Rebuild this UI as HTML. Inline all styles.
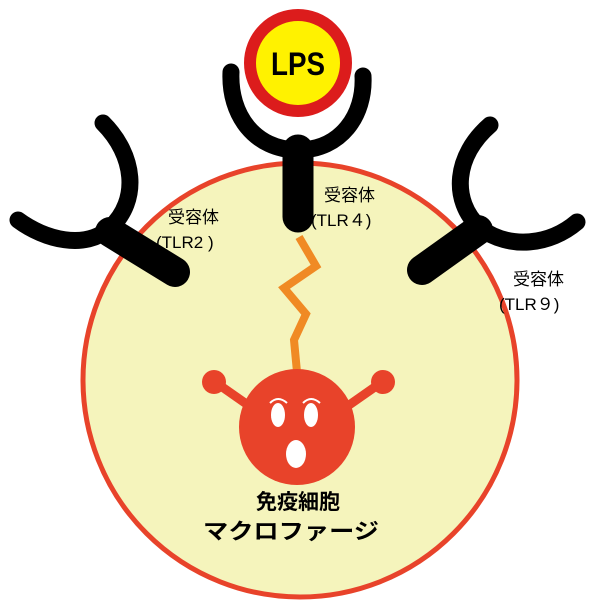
<!DOCTYPE html>
<html><head><meta charset="utf-8"><style>
html,body{margin:0;padding:0;background:#fff;width:600px;height:600px;overflow:hidden}
svg{display:block}
text{font-family:"Liberation Sans","Noto Sans CJK JP",sans-serif}
</style></head><body>
<svg width="600" height="600" viewBox="0 0 600 600">
<circle cx="300" cy="380" r="217" fill="#f5f4bc" stroke="#e8432a" stroke-width="5"/>
<!-- TLR2 -->
<path d="M103,123 C135,155 140,200 110,228 C85,250 45,240 18,220" fill="none" stroke="#000" stroke-width="17" stroke-linecap="round"/>
<line x1="110" y1="232" x2="175" y2="272" stroke="#000" stroke-width="30" stroke-linecap="round"/>
<!-- TLR9 -->
<path d="M490,125 C455,155 450,200 480,228 C510,250 550,245 577,222" fill="none" stroke="#000" stroke-width="17" stroke-linecap="round"/>
<line x1="478" y1="230" x2="422" y2="270" stroke="#000" stroke-width="30" stroke-linecap="round"/>
<!-- TLR4 -->
<path d="M231,72 C229,115 255,150 298,150 C341,150 365,115 363,76" fill="none" stroke="#000" stroke-width="17" stroke-linecap="round"/>
<line x1="298" y1="150" x2="298" y2="217" stroke="#000" stroke-width="31" stroke-linecap="round"/>
<!-- LPS -->
<circle cx="298" cy="63" r="48" fill="#fff200" stroke="#dc1c1c" stroke-width="12"/>
<text x="298" y="75" text-anchor="middle" font-size="32" font-weight="bold" textLength="54" lengthAdjust="spacingAndGlyphs">LPS</text>
<!-- lightning -->
<polyline points="299,237 316,266 284,288 306,314 294,340 297,372" fill="none" stroke="#f08a24" stroke-width="8" stroke-linejoin="miter"/>
<!-- macrophage -->
<line x1="215" y1="382" x2="255" y2="410" stroke="#e8432a" stroke-width="9"/>
<line x1="382" y1="382" x2="342" y2="410" stroke="#e8432a" stroke-width="9"/>
<circle cx="214" cy="382" r="12" fill="#e8432a"/>
<circle cx="383" cy="382" r="12" fill="#e8432a"/>
<circle cx="297" cy="427" r="58" fill="#e8432a"/>
<ellipse cx="278" cy="415" rx="7" ry="12" fill="#fff"/>
<ellipse cx="311" cy="415" rx="7" ry="12" fill="#fff"/>
<path d="M270,403 Q278,395 287,403" fill="none" stroke="#fff" stroke-width="2"/>
<path d="M303,403 Q311,395 320,403" fill="none" stroke="#fff" stroke-width="2"/>
<ellipse cx="296" cy="454" rx="10" ry="14" fill="#fff"/>
<text x="298" y="509" text-anchor="middle" font-size="21" font-weight="bold">免疫細胞</text>
<text x="291" y="539" text-anchor="middle" font-size="22" font-weight="bold" textLength="176" lengthAdjust="spacingAndGlyphs">マクロファージ</text>
<!-- labels -->
<text x="168" y="223" font-size="17">受容体</text>
<text x="156" y="248" font-size="17">(TLR2 )</text>
<text x="324" y="201" font-size="17">受容体</text>
<text x="311" y="226" font-size="17">(TLR４)</text>
<text x="513" y="285" font-size="17">受容体</text>
<text x="499" y="310" font-size="17">(TLR９)</text>
</svg>
</body></html>
